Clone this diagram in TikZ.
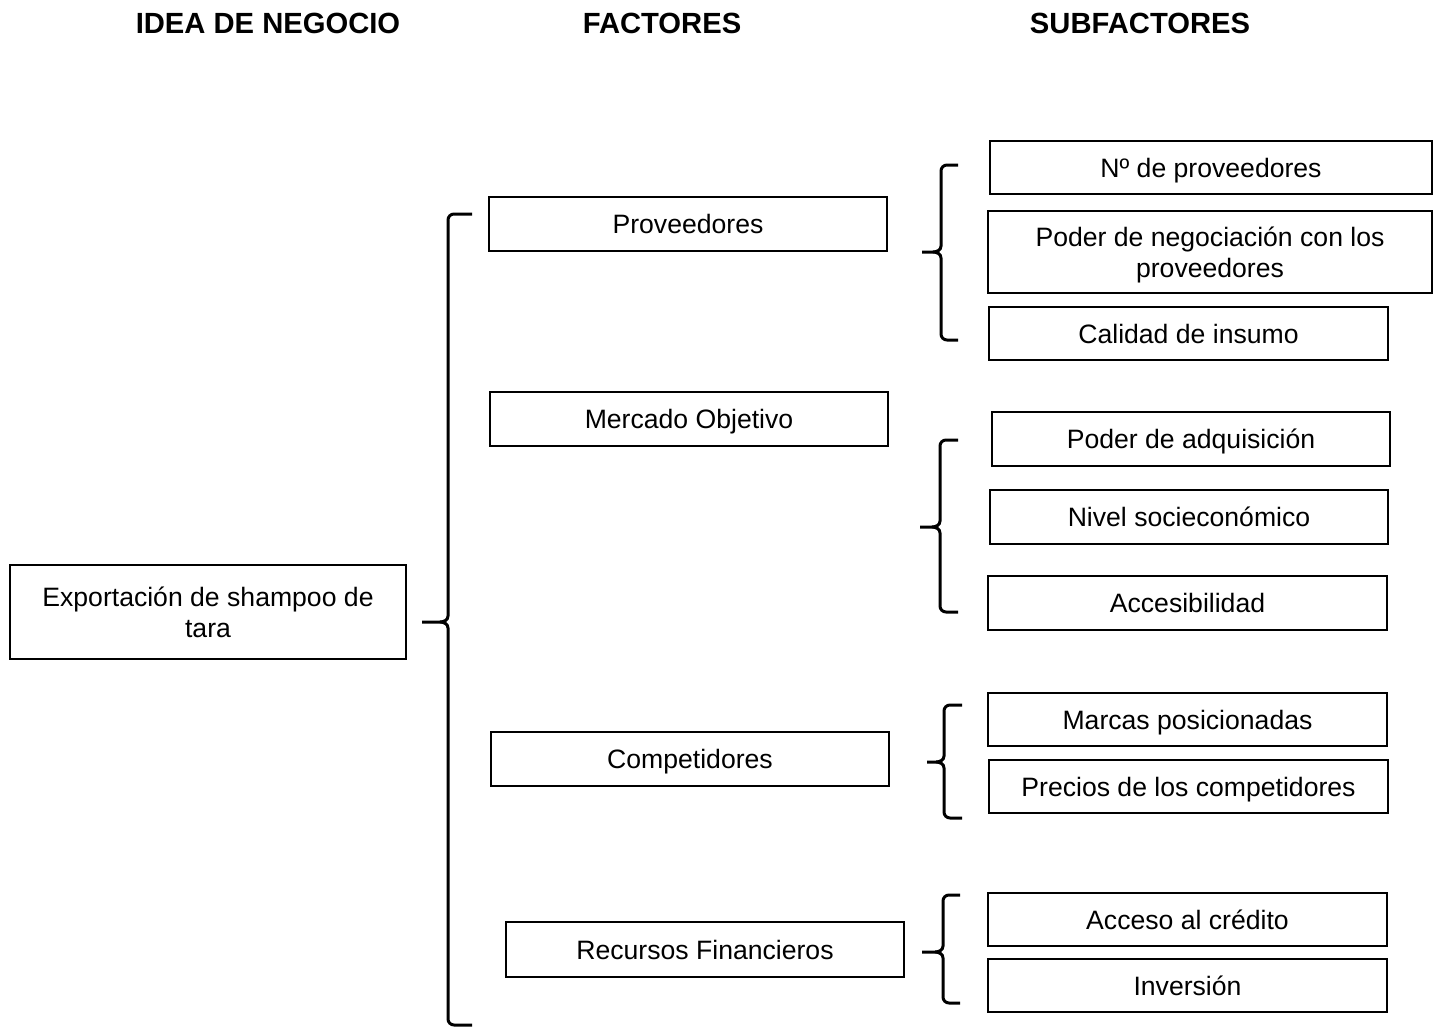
\documentclass[tikz,border=0pt]{standalone}
\usepackage{fontspec}
\setmainfont{Liberation Sans}
\begin{document}
\begin{tikzpicture}[x=0.5pt,y=-0.5pt,
  box/.style={draw,line width=1pt,align=center,inner sep=0pt,text depth=0pt,font=\fontsize{13.3}{15.5}\selectfont},
  sz/.style 2 args={minimum width=#1*0.5pt,minimum height=#2*0.5pt},
  head/.style={font=\fontsize{14.6}{17}\selectfont\bfseries},
  brace/.style={line width=1.5pt}]
\useasboundingbox (0,0) rectangle (1439,1028);

% column headings
\node[head] (h1) at (268,23) {IDEA DE NEGOCIO};
\node[head] (h2) at (662,23) {FACTORES};
\node[head] (h3) at (1140,23) {SUBFACTORES};

% business idea
\node[box,sz={396}{94}] (idea) at (208,612) {Exportación de shampoo de\\tara};

% factors
\node[box,sz={398}{54}] (prov) at (688,224) {Proveedores};
\node[box,sz={398}{54}] (merc) at (689,419) {Mercado Objetivo};
\node[box,sz={398}{54}] (comp) at (690,759) {Competidores};
\node[box,sz={398}{55}] (rec) at (705,949.5) {Recursos Financieros};

% subfactors
\node[box,sz={442}{53}] (s1) at (1211,167.5) {Nº de proveedores};
\node[box,sz={444}{82}] (s2) at (1210,252) {Poder de negociación con los\\proveedores};
\node[box,sz={399}{53}] (s3) at (1188.5,333.5) {Calidad de insumo};
\node[box,sz={398}{54}] (s4) at (1191,439) {Poder de adquisición};
\node[box,sz={398}{54}] (s5) at (1189,517) {Nivel socieconómico};
\node[box,sz={399}{54}] (s6) at (1187.5,603) {Accesibilidad};
\node[box,sz={399}{53}] (s7) at (1187.5,719.5) {Marcas posicionadas};
\node[box,sz={399}{53}] (s8) at (1188.5,786.5) {Precios de los competidores};
\node[box,sz={399}{53}] (s9) at (1187.5,919.5) {Acceso al crédito};
\node[box,sz={399}{53}] (s10) at (1187.5,985.5) {Inversión};

% curly brace: #1 spine x, #2 top y, #3 tip y, #4 bottom y, #5 arm end x, #6 tip end x
\newcommand\curlybrace[6]{%
  \draw[brace] (#5,#2) -- (#1+6,#2) to[out=180,in=90] (#1,#2+6) -- (#1,#3-6)
    to[out=-90,in=0] (#1-8,#3) -- (#6,#3);
  \draw[brace] (#1-8,#3) to[out=0,in=90] (#1,#3+6) -- (#1,#4-6)
    to[out=-90,in=180] (#1+6,#4) -- (#5,#4);}

\curlybrace{448}{214}{622}{1025}{472}{422}
\curlybrace{941}{165}{252}{340}{958}{922}
\curlybrace{940}{440}{527}{612}{958}{920}
\curlybrace{944}{705}{762}{818}{962}{927}
\curlybrace{943}{895}{952}{1003}{960}{922}
\end{tikzpicture}
\end{document}
